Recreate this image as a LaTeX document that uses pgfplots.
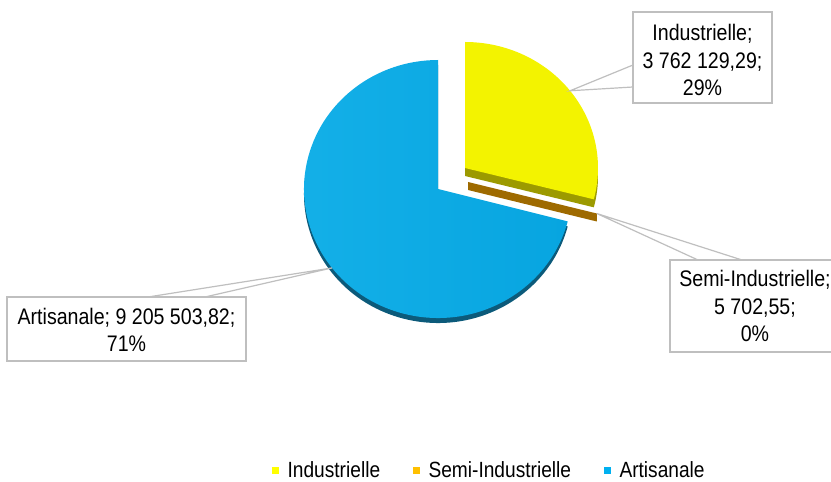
\documentclass[border=0pt]{standalone}
\usepackage{fontspec}
\setmainfont{Liberation Sans}[FakeStretch=0.87]
\usepackage{pgfplots}
\usepackage{pgfplotstable}
\pgfplotsset{compat=1.18}
\definecolor{indTop}{HTML}{F3F300}
\definecolor{indSide}{HTML}{9C9A00}
\definecolor{semiSide}{HTML}{9E6A00}
\definecolor{artMain}{HTML}{07A5E0}
\definecolor{artLight}{HTML}{14B0E8}
\definecolor{artDark}{HTML}{0C5A7A}
\definecolor{boxgray}{HTML}{BFBFBF}
\definecolor{lgYellow}{HTML}{FFFF00}
\definecolor{lgOrange}{HTML}{FFC000}
\definecolor{lgBlue}{HTML}{00B0F0}
\newcommand{\lblfont}{\fontsize{22.5}{27.5}\selectfont}

\begin{document}
\begin{tikzpicture}
\pgfplotstableread{
label value
Industrielle 3762129.29
Semi-Industrielle 5702.55
Artisanale 9205503.82
}\piedata
\pgfplotstablegetelem{0}{value}\of\piedata \let\vI\pgfplotsretval
\pgfplotstablegetelem{1}{value}\of\piedata \let\vS\pgfplotsretval
\pgfplotstablegetelem{2}{value}\of\piedata \let\vA\pgfplotsretval
\edef\tot{\fpeval{\vI+\vS+\vA}}
\edef\aI{\fpeval{round(360*\vI/\tot,4)}}
\edef\aS{\fpeval{round(360*\vS/\tot,4)}}
\edef\aA{\fpeval{round(360*\vA/\tot,4)}}
% slices run clockwise from 12 o'clock
\edef\eI{\fpeval{90-\aI}}
\edef\eS{\fpeval{\eI-\aS}}
\edef\eA{\fpeval{\eS-\aA}}
\edef\mI{\fpeval{90-\aI/2}}
\edef\mS{\fpeval{\eI-\aS/2}}
\edef\mA{\fpeval{\eS-\aA/2}}
% rim offsets (pt) on the ellipses
\edef\xA{\fpeval{round(134*cosd(\eS),3)}}\edef\yA{\fpeval{round(129*sind(\eS),3)}}
\edef\xmA{\fpeval{round(134*cosd(\mA),3)}}\edef\ymA{\fpeval{round(129*sind(\mA),3)}}
\edef\xmI{\fpeval{round(133*cosd(\mI),3)}}\edef\ymI{\fpeval{round(126*sind(\mI),3)}}
\edef\xmS{\fpeval{round(133*cosd(\mS),3)}}\edef\ymS{\fpeval{round(126*sind(\mS),3)}}
\begin{axis}[
  x=1pt, y=1pt,
  xmin=0, xmax=831, ymin=0, ymax=482,
  hide axis, clip=false,
  legend columns=3,
  legend style={at={(axis cs:269,12)}, anchor=west, draw=none, fill=none,
    font=\fontsize{22}{26}\selectfont,
    nodes={inner sep=0pt, anchor=west},
    /tikz/every odd column/.append style={column sep=9pt},
    /tikz/every even column/.append style={column sep=33pt}},
]
\coordinate (bbsw) at (axis cs:0,0);
\coordinate (bbne) at (axis cs:831,482);

% Artisanale: side then top face
\fill[artDark] (axis cs:438,288) -- ++(\xA pt,\yA pt)
  arc[start angle=\eS, end angle=\eA, x radius=134pt, y radius=129pt] -- cycle;
\shade[left color=artLight, right color=artMain] (axis cs:438,293) -- ++(\xA pt,\yA pt)
  arc[start angle=\eS, end angle=\eA, x radius=134pt, y radius=129pt] -- cycle;

% Industrielle (exploded)
\fill[indSide] (axis cs:465,306) -- ++(0pt,126pt)
  arc[start angle=90, end angle=\eI, x radius=133pt, y radius=126pt] -- cycle;
\fill[indTop] (axis cs:465,314) -- ++(0pt,126pt)
  arc[start angle=90, end angle=\eI, x radius=133pt, y radius=126pt] -- cycle;

% Semi-Industrielle (thin, exploded)
\fill[semiSide] (axis cs:468,300) -- ++(\xmS pt,\ymS pt)
  -- ++(0pt,-8pt) -- (axis cs:468,292) -- cycle;

% callouts
\draw[boxgray, line width=1.2pt, fill=white] (axis cs:465,314) ++(\xmI pt,\ymI pt)
  -- (axis cs:633,417) -- (axis cs:633,395) -- cycle;
\draw[boxgray, line width=1.3pt, fill=white] (axis cs:633,379) rectangle (axis cs:772,470);
\node[align=center, font=\lblfont, inner sep=0pt] at (axis cs:702.5,422) {Industrielle;\\3 762 129,29;\\29\%};

\draw[boxgray, line width=1.2pt, fill=white] (axis cs:438,293) ++(\xmA pt,\ymA pt)
  -- (axis cs:148,185) -- (axis cs:205,185) -- cycle;
\draw[boxgray, line width=1.3pt, fill=white] (axis cs:7,121) rectangle (axis cs:246,185);
\node[align=center, font=\lblfont, inner sep=0pt] at (axis cs:126.5,152) {Artisanale; 9 205 503,82;\\71\%};

\draw[boxgray, line width=1.2pt, fill=white] (axis cs:468,300) ++(\xmS pt,\ymS pt)
  -- (axis cs:698,222) -- (axis cs:742,222) -- cycle;
\draw[boxgray, line width=1.3pt, fill=white] (axis cs:670,130) rectangle (axis cs:842,222);
\node[align=center, font=\lblfont, inner sep=0pt] at (axis cs:755,176) {Semi-Industrielle;\\5 702,55;\\0\%};

\addlegendimage{legend image code/.code={\fill[lgYellow] (0pt,-3pt) rectangle (6pt,3pt);}}
\addlegendentry{Industrielle}
\addlegendimage{legend image code/.code={\fill[lgOrange] (0pt,-3pt) rectangle (6pt,3pt);}}
\addlegendentry{Semi-Industrielle}
\addlegendimage{legend image code/.code={\fill[lgBlue] (0pt,-3pt) rectangle (6pt,3pt);}}
\addlegendentry{Artisanale}
\end{axis}
\pgfresetboundingbox
\path[use as bounding box] (bbsw) rectangle (bbne);
\end{tikzpicture}
\end{document}
